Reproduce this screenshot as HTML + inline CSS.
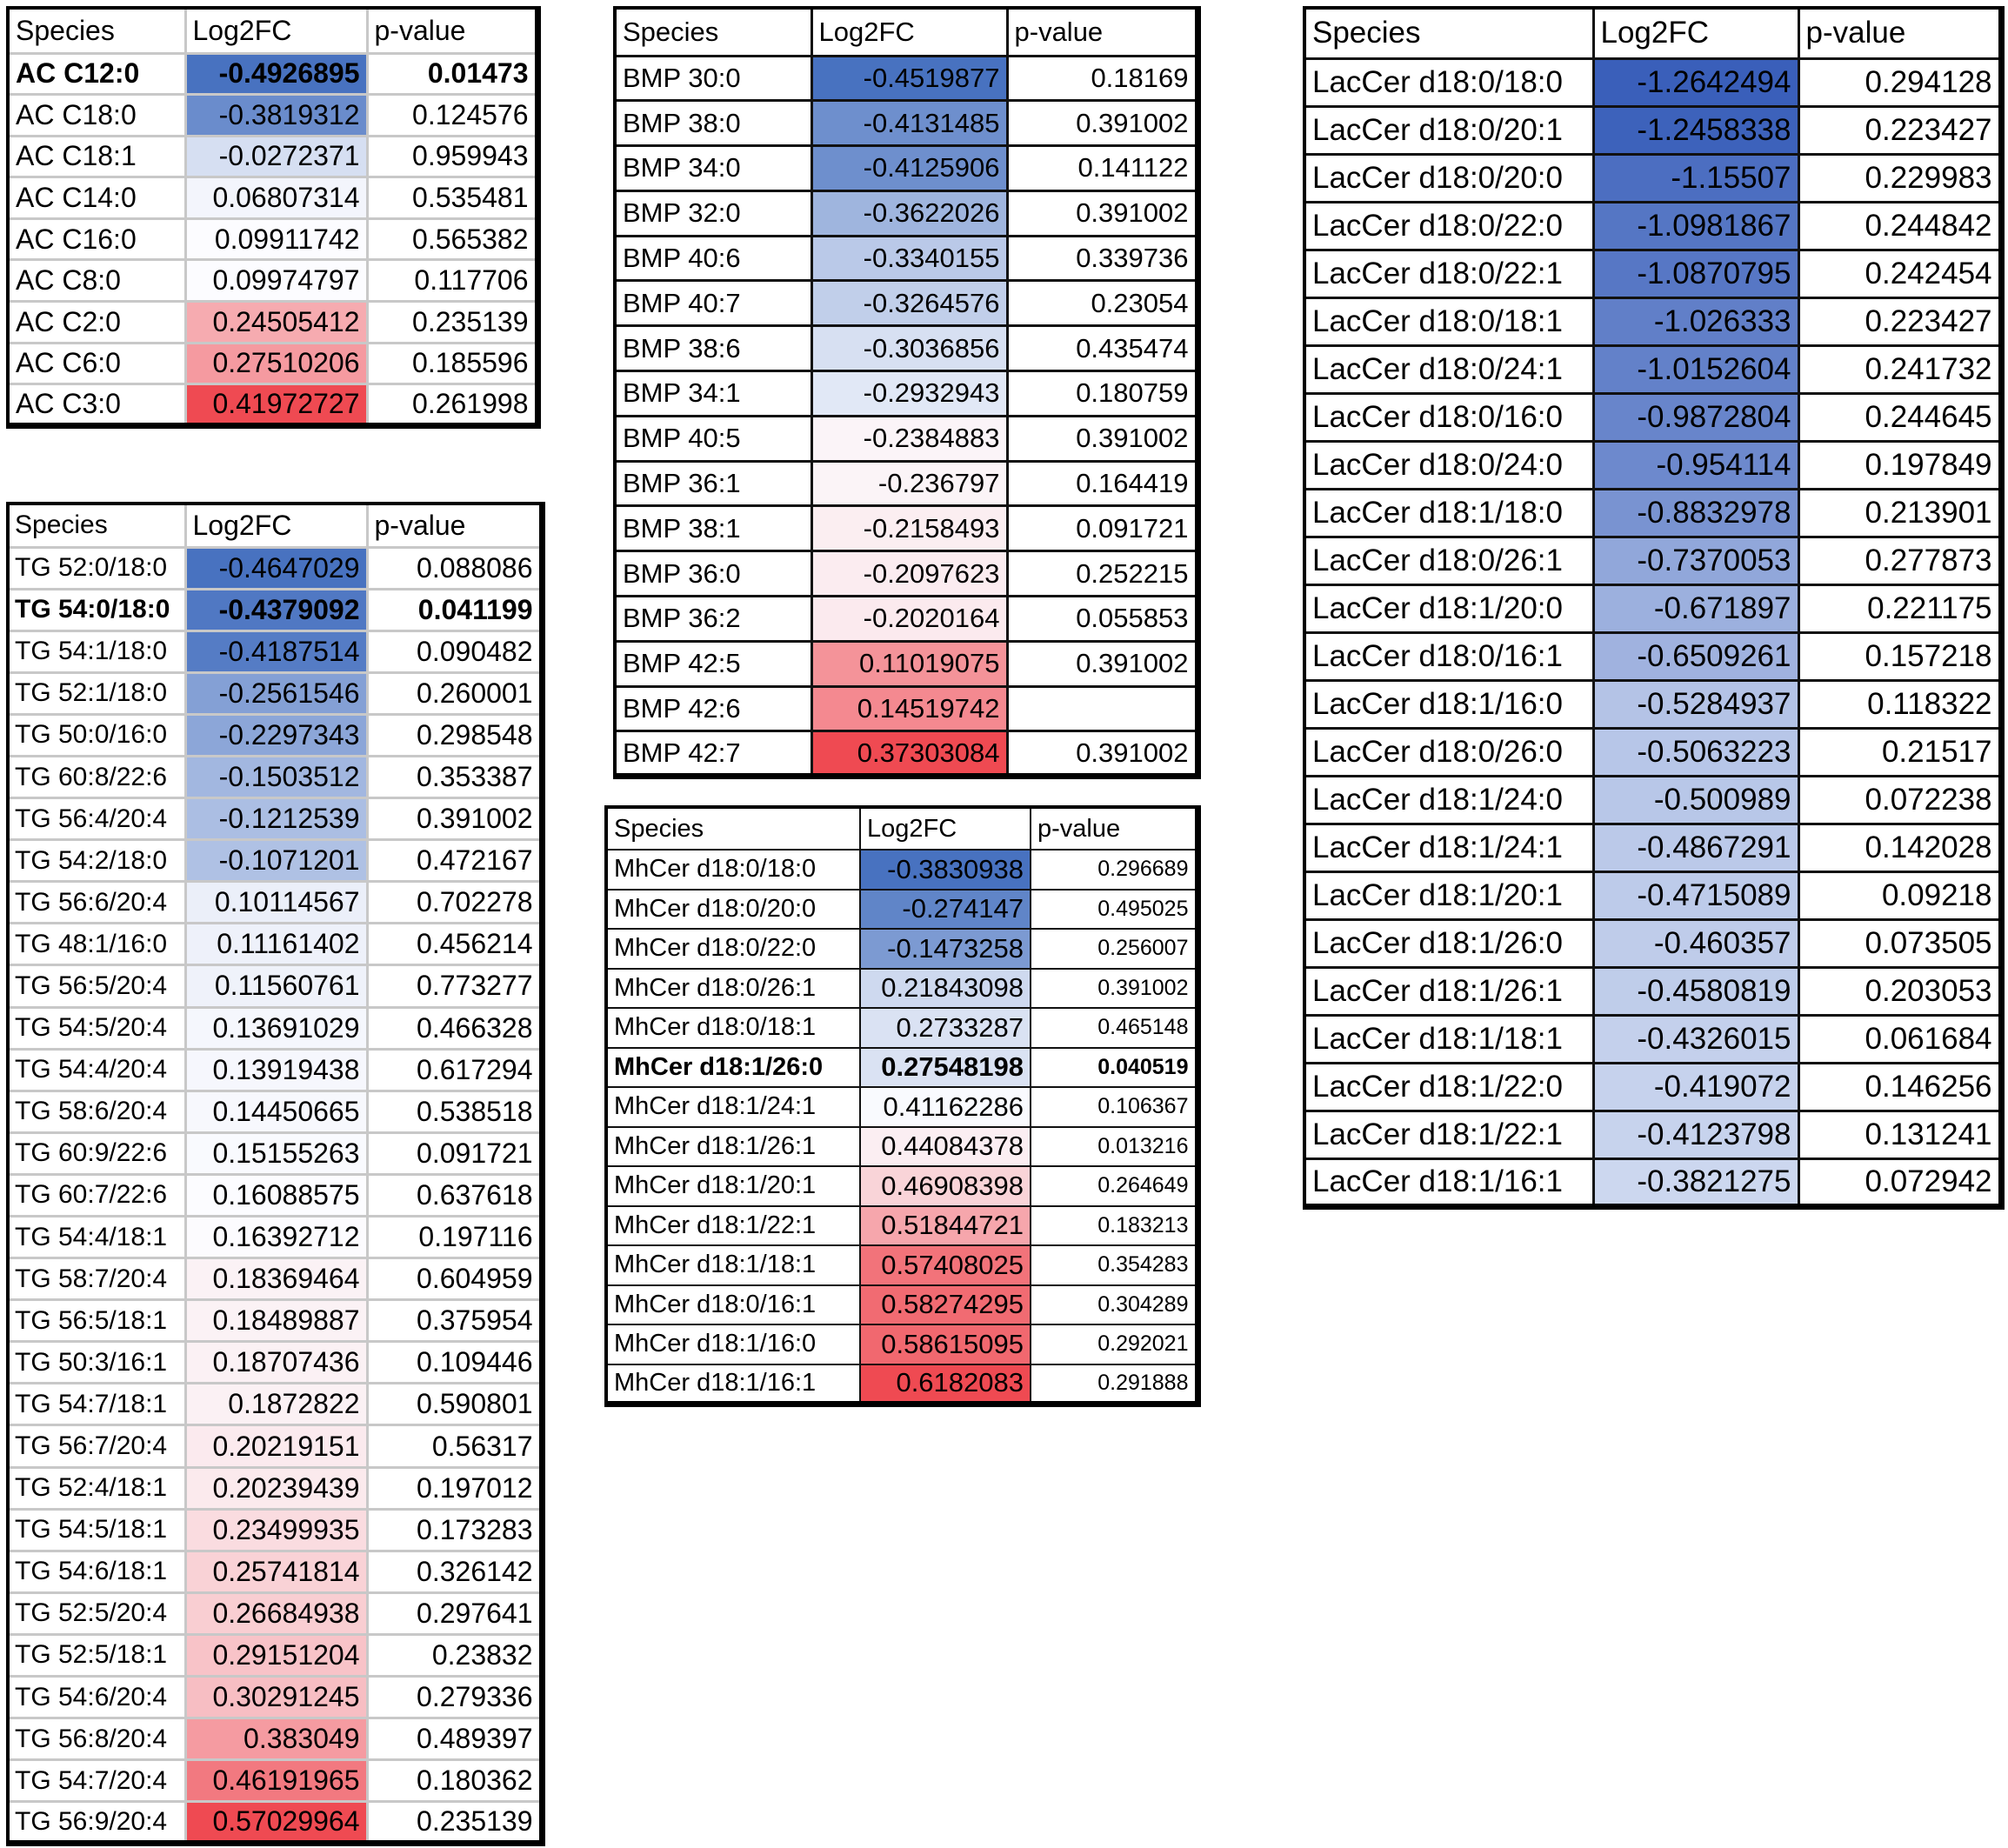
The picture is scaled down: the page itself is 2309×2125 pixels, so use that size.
<!DOCTYPE html>
<html><head><meta charset="utf-8">
<style>
html,body{margin:0;padding:0;background:#fff;width:2309px;height:2125px;overflow:hidden;}
body{position:relative;font-family:"Liberation Sans",sans-serif;color:#000;}
table{position:absolute;border-collapse:collapse;table-layout:fixed;border-top:4px solid #000;border-left:4px solid #000;border-right:7px solid #000;border-bottom:7px solid #000;}
td{padding:0 7px;white-space:nowrap;overflow:hidden;box-sizing:border-box;}
td.v,td.p{text-align:right;}
tr.b td{font-weight:bold;}
.g td{border:3px solid #c8c8c8;}
.k td{border:3px solid #111;}
.m td{border:2px solid #111;}
#ac{left:7px;top:7px;width:609px;font-size:32px;}
#ac tr{height:47.6px;} #ac tr.h{height:52px;}
#tg{left:7px;top:577px;width:614px;font-size:32px;}
#tg td:first-child{font-size:30px;padding-left:6px;}
#tg tr{height:48.1px;} #tg tr.h{height:50px;}
#bmp{left:705px;top:7px;width:670px;font-size:31px;}
#bmp tr{height:51.8px;} #bmp tr.h{height:55px;}
#mh{left:695px;top:926px;width:680px;font-size:29px;}
#mh tr{height:45.5px;} #mh tr.h{height:49px;}
#mh td.p{font-size:25px;}
#mh td.v{font-size:31px;}
#lc{left:1498px;top:7px;width:801px;font-size:35px;}
#lc tr{height:55px;} #lc tr.h{height:58px;}
</style></head><body>

<table id="ac" class="g" data-s="3">
<colgroup><col style="width:204px"><col style="width:209px"><col style="width:196px"></colgroup>
<tr class="h"><td>Species</td><td>Log2FC</td><td>p-value</td></tr>
<tr class="b"><td>AC C12:0</td><td class="v">-0.4926895</td><td class="p">0.01473</td></tr>
<tr><td>AC C18:0</td><td class="v">-0.3819312</td><td class="p">0.124576</td></tr>
<tr><td>AC C18:1</td><td class="v">-0.0272371</td><td class="p">0.959943</td></tr>
<tr><td>AC C14:0</td><td class="v">0.06807314</td><td class="p">0.535481</td></tr>
<tr><td>AC C16:0</td><td class="v">0.09911742</td><td class="p">0.565382</td></tr>
<tr><td>AC C8:0</td><td class="v">0.09974797</td><td class="p">0.117706</td></tr>
<tr><td>AC C2:0</td><td class="v">0.24505412</td><td class="p">0.235139</td></tr>
<tr><td>AC C6:0</td><td class="v">0.27510206</td><td class="p">0.185596</td></tr>
<tr><td>AC C3:0</td><td class="v">0.41972727</td><td class="p">0.261998</td></tr>
</table>

<table id="tg" class="g" data-s="3">
<colgroup><col style="width:204px"><col style="width:209px"><col style="width:201px"></colgroup>
<tr class="h"><td>Species</td><td>Log2FC</td><td>p-value</td></tr>
<tr><td>TG 52:0/18:0</td><td class="v">-0.4647029</td><td class="p">0.088086</td></tr>
<tr class="b"><td>TG 54:0/18:0</td><td class="v">-0.4379092</td><td class="p">0.041199</td></tr>
<tr><td>TG 54:1/18:0</td><td class="v">-0.4187514</td><td class="p">0.090482</td></tr>
<tr><td>TG 52:1/18:0</td><td class="v">-0.2561546</td><td class="p">0.260001</td></tr>
<tr><td>TG 50:0/16:0</td><td class="v">-0.2297343</td><td class="p">0.298548</td></tr>
<tr><td>TG 60:8/22:6</td><td class="v">-0.1503512</td><td class="p">0.353387</td></tr>
<tr><td>TG 56:4/20:4</td><td class="v">-0.1212539</td><td class="p">0.391002</td></tr>
<tr><td>TG 54:2/18:0</td><td class="v">-0.1071201</td><td class="p">0.472167</td></tr>
<tr><td>TG 56:6/20:4</td><td class="v">0.10114567</td><td class="p">0.702278</td></tr>
<tr><td>TG 48:1/16:0</td><td class="v">0.11161402</td><td class="p">0.456214</td></tr>
<tr><td>TG 56:5/20:4</td><td class="v">0.11560761</td><td class="p">0.773277</td></tr>
<tr><td>TG 54:5/20:4</td><td class="v">0.13691029</td><td class="p">0.466328</td></tr>
<tr><td>TG 54:4/20:4</td><td class="v">0.13919438</td><td class="p">0.617294</td></tr>
<tr><td>TG 58:6/20:4</td><td class="v">0.14450665</td><td class="p">0.538518</td></tr>
<tr><td>TG 60:9/22:6</td><td class="v">0.15155263</td><td class="p">0.091721</td></tr>
<tr><td>TG 60:7/22:6</td><td class="v">0.16088575</td><td class="p">0.637618</td></tr>
<tr><td>TG 54:4/18:1</td><td class="v">0.16392712</td><td class="p">0.197116</td></tr>
<tr><td>TG 58:7/20:4</td><td class="v">0.18369464</td><td class="p">0.604959</td></tr>
<tr><td>TG 56:5/18:1</td><td class="v">0.18489887</td><td class="p">0.375954</td></tr>
<tr><td>TG 50:3/16:1</td><td class="v">0.18707436</td><td class="p">0.109446</td></tr>
<tr><td>TG 54:7/18:1</td><td class="v">0.1872822</td><td class="p">0.590801</td></tr>
<tr><td>TG 56:7/20:4</td><td class="v">0.20219151</td><td class="p">0.56317</td></tr>
<tr><td>TG 52:4/18:1</td><td class="v">0.20239439</td><td class="p">0.197012</td></tr>
<tr><td>TG 54:5/18:1</td><td class="v">0.23499935</td><td class="p">0.173283</td></tr>
<tr><td>TG 54:6/18:1</td><td class="v">0.25741814</td><td class="p">0.326142</td></tr>
<tr><td>TG 52:5/20:4</td><td class="v">0.26684938</td><td class="p">0.297641</td></tr>
<tr><td>TG 52:5/18:1</td><td class="v">0.29151204</td><td class="p">0.23832</td></tr>
<tr><td>TG 54:6/20:4</td><td class="v">0.30291245</td><td class="p">0.279336</td></tr>
<tr><td>TG 56:8/20:4</td><td class="v">0.383049</td><td class="p">0.489397</td></tr>
<tr><td>TG 54:7/20:4</td><td class="v">0.46191965</td><td class="p">0.180362</td></tr>
<tr><td>TG 56:9/20:4</td><td class="v">0.57029964</td><td class="p">0.235139</td></tr>
</table>

<table id="bmp" class="k" data-s="3">
<colgroup><col style="width:226px"><col style="width:225px"><col style="width:219px"></colgroup>
<tr class="h"><td>Species</td><td>Log2FC</td><td>p-value</td></tr>
<tr><td>BMP 30:0</td><td class="v">-0.4519877</td><td class="p">0.18169</td></tr>
<tr><td>BMP 38:0</td><td class="v">-0.4131485</td><td class="p">0.391002</td></tr>
<tr><td>BMP 34:0</td><td class="v">-0.4125906</td><td class="p">0.141122</td></tr>
<tr><td>BMP 32:0</td><td class="v">-0.3622026</td><td class="p">0.391002</td></tr>
<tr><td>BMP 40:6</td><td class="v">-0.3340155</td><td class="p">0.339736</td></tr>
<tr><td>BMP 40:7</td><td class="v">-0.3264576</td><td class="p">0.23054</td></tr>
<tr><td>BMP 38:6</td><td class="v">-0.3036856</td><td class="p">0.435474</td></tr>
<tr><td>BMP 34:1</td><td class="v">-0.2932943</td><td class="p">0.180759</td></tr>
<tr><td>BMP 40:5</td><td class="v">-0.2384883</td><td class="p">0.391002</td></tr>
<tr><td>BMP 36:1</td><td class="v">-0.236797</td><td class="p">0.164419</td></tr>
<tr><td>BMP 38:1</td><td class="v">-0.2158493</td><td class="p">0.091721</td></tr>
<tr><td>BMP 36:0</td><td class="v">-0.2097623</td><td class="p">0.252215</td></tr>
<tr><td>BMP 36:2</td><td class="v">-0.2020164</td><td class="p">0.055853</td></tr>
<tr><td>BMP 42:5</td><td class="v">0.11019075</td><td class="p">0.391002</td></tr>
<tr><td>BMP 42:6</td><td class="v">0.14519742</td><td class="p"></td></tr>
<tr><td>BMP 42:7</td><td class="v">0.37303084</td><td class="p">0.391002</td></tr>
</table>

<table id="mh" class="m" data-s="3">
<colgroup><col style="width:292px"><col style="width:196px"><col style="width:192px"></colgroup>
<tr class="h"><td>Species</td><td>Log2FC</td><td>p-value</td></tr>
<tr><td>MhCer d18:0/18:0</td><td class="v">-0.3830938</td><td class="p">0.296689</td></tr>
<tr><td>MhCer d18:0/20:0</td><td class="v">-0.274147</td><td class="p">0.495025</td></tr>
<tr><td>MhCer d18:0/22:0</td><td class="v">-0.1473258</td><td class="p">0.256007</td></tr>
<tr><td>MhCer d18:0/26:1</td><td class="v">0.21843098</td><td class="p">0.391002</td></tr>
<tr><td>MhCer d18:0/18:1</td><td class="v">0.2733287</td><td class="p">0.465148</td></tr>
<tr class="b"><td>MhCer d18:1/26:0</td><td class="v">0.27548198</td><td class="p">0.040519</td></tr>
<tr><td>MhCer d18:1/24:1</td><td class="v">0.41162286</td><td class="p">0.106367</td></tr>
<tr><td>MhCer d18:1/26:1</td><td class="v">0.44084378</td><td class="p">0.013216</td></tr>
<tr><td>MhCer d18:1/20:1</td><td class="v">0.46908398</td><td class="p">0.264649</td></tr>
<tr><td>MhCer d18:1/22:1</td><td class="v">0.51844721</td><td class="p">0.183213</td></tr>
<tr><td>MhCer d18:1/18:1</td><td class="v">0.57408025</td><td class="p">0.354283</td></tr>
<tr><td>MhCer d18:0/16:1</td><td class="v">0.58274295</td><td class="p">0.304289</td></tr>
<tr><td>MhCer d18:1/16:0</td><td class="v">0.58615095</td><td class="p">0.292021</td></tr>
<tr><td>MhCer d18:1/16:1</td><td class="v">0.6182083</td><td class="p">0.291888</td></tr>
</table>

<table id="lc" class="k" data-s="2">
<colgroup><col style="width:332px"><col style="width:236px"><col style="width:233px"></colgroup>
<tr class="h"><td>Species</td><td>Log2FC</td><td>p-value</td></tr>
<tr><td>LacCer d18:0/18:0</td><td class="v">-1.2642494</td><td class="p">0.294128</td></tr>
<tr><td>LacCer d18:0/20:1</td><td class="v">-1.2458338</td><td class="p">0.223427</td></tr>
<tr><td>LacCer d18:0/20:0</td><td class="v">-1.15507</td><td class="p">0.229983</td></tr>
<tr><td>LacCer d18:0/22:0</td><td class="v">-1.0981867</td><td class="p">0.244842</td></tr>
<tr><td>LacCer d18:0/22:1</td><td class="v">-1.0870795</td><td class="p">0.242454</td></tr>
<tr><td>LacCer d18:0/18:1</td><td class="v">-1.026333</td><td class="p">0.223427</td></tr>
<tr><td>LacCer d18:0/24:1</td><td class="v">-1.0152604</td><td class="p">0.241732</td></tr>
<tr><td>LacCer d18:0/16:0</td><td class="v">-0.9872804</td><td class="p">0.244645</td></tr>
<tr><td>LacCer d18:0/24:0</td><td class="v">-0.954114</td><td class="p">0.197849</td></tr>
<tr><td>LacCer d18:1/18:0</td><td class="v">-0.8832978</td><td class="p">0.213901</td></tr>
<tr><td>LacCer d18:0/26:1</td><td class="v">-0.7370053</td><td class="p">0.277873</td></tr>
<tr><td>LacCer d18:1/20:0</td><td class="v">-0.671897</td><td class="p">0.221175</td></tr>
<tr><td>LacCer d18:0/16:1</td><td class="v">-0.6509261</td><td class="p">0.157218</td></tr>
<tr><td>LacCer d18:1/16:0</td><td class="v">-0.5284937</td><td class="p">0.118322</td></tr>
<tr><td>LacCer d18:0/26:0</td><td class="v">-0.5063223</td><td class="p">0.21517</td></tr>
<tr><td>LacCer d18:1/24:0</td><td class="v">-0.500989</td><td class="p">0.072238</td></tr>
<tr><td>LacCer d18:1/24:1</td><td class="v">-0.4867291</td><td class="p">0.142028</td></tr>
<tr><td>LacCer d18:1/20:1</td><td class="v">-0.4715089</td><td class="p">0.09218</td></tr>
<tr><td>LacCer d18:1/26:0</td><td class="v">-0.460357</td><td class="p">0.073505</td></tr>
<tr><td>LacCer d18:1/26:1</td><td class="v">-0.4580819</td><td class="p">0.203053</td></tr>
<tr><td>LacCer d18:1/18:1</td><td class="v">-0.4326015</td><td class="p">0.061684</td></tr>
<tr><td>LacCer d18:1/22:0</td><td class="v">-0.419072</td><td class="p">0.146256</td></tr>
<tr><td>LacCer d18:1/22:1</td><td class="v">-0.4123798</td><td class="p">0.131241</td></tr>
<tr><td>LacCer d18:1/16:1</td><td class="v">-0.3821275</td><td class="p">0.072942</td></tr>
</table>

<script>
(function(){
function lerp(a,b,t){return [0,1,2].map(function(i){return Math.round(a[i]+(b[i]-a[i])*t);});}
var BLUE=[72,114,192],WHITE=[252,252,255],RED=[239,74,82];
var LB1=[58,95,186],LB2=[204,215,239];
var tables=document.querySelectorAll('table');
for(var k=0;k<tables.length;k++){
 var t=tables[k];var cells=t.querySelectorAll('td.v');var vals=[];
 for(var i=0;i<cells.length;i++)vals.push(parseFloat(cells[i].textContent));
 var s=vals.slice().sort(function(a,b){return a-b;});
 var mn=s[0],mx=s[s.length-1],n=s.length;
 var med=n%2?s[(n-1)/2]:(s[n/2-1]+s[n/2])/2;
 for(var i=0;i<cells.length;i++){
  var v=vals[i],c;
  if(t.getAttribute('data-s')==='2'){c=lerp(LB1,LB2,(v-mn)/(mx-mn));}
  else if(v<=med){c=lerp(BLUE,WHITE,(v-mn)/(med-mn));}
  else{c=lerp(WHITE,RED,(v-med)/(mx-med));}
  cells[i].style.background='rgb('+c.join(',')+')';
 }
}
})();
</script>
</body></html>
